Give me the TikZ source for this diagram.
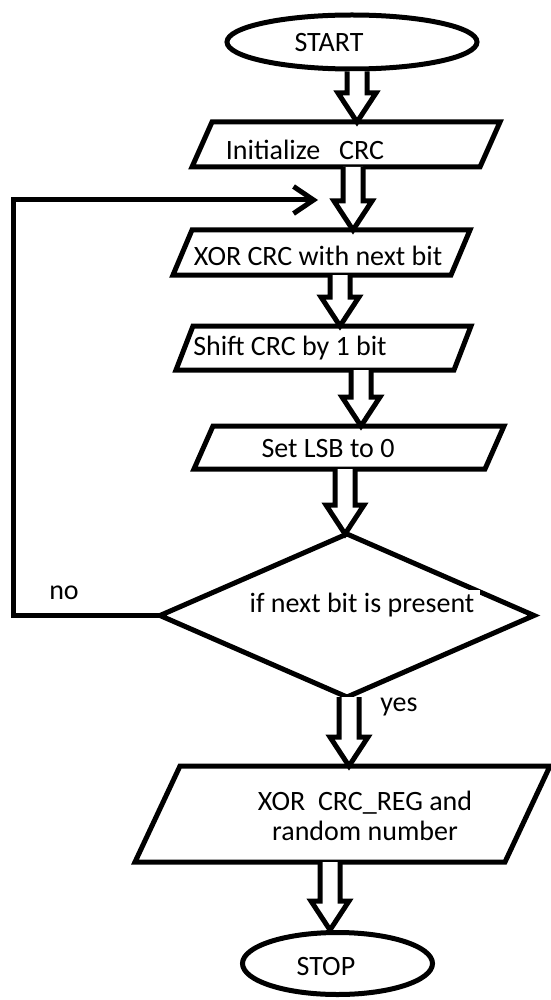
\documentclass[tikz,border=0pt]{standalone}
\usepackage{fontspec}
\setmainfont{Carlito}
\usetikzlibrary{shapes.geometric,calc,arrows.meta}
\tikzset{
  stroke/.style={line width=5pt,draw=black,line join=miter},
  box/.style={rectangle,inner sep=0pt,outer sep=0pt},
  ell/.style={ellipse,stroke,inner sep=0pt},
  txt/.style={inner sep=1pt,font=\fontsize{28}{30}\selectfont,align=center},
  blk/.style={stroke,fill=white},
}
\newcommand\paradraw[2]{\draw[stroke] ($(#1.north west)+(#2pt,0)$) -- (#1.north east) -- ($(#1.south east)+(-#2pt,0)$) -- (#1.south west) -- cycle;}
\newcommand\blockarr[3]{\draw[blk] let \p1=(#1.south), \p2=(#2.north) in
  (#3pt-10pt,\y1) -- (#3pt-10pt,\y2+29pt) -- (#3pt-19pt,\y2+29pt) -- (#3pt,\y2)
  -- (#3pt+19pt,\y2+29pt) -- (#3pt+10pt,\y2+29pt) -- (#3pt+10pt,\y1);}
\begin{document}
\begin{tikzpicture}[x=1pt,y=-1pt]
\useasboundingbox (0,0) rectangle (550,1000);
% shapes
\node[ell,minimum width=250pt,minimum height=54pt] (start) at (352,42) {};
\node[box,minimum width=308pt,minimum height=45pt] (init) at (346,144.5) {};
\node[box,minimum width=297pt,minimum height=45pt] (xor) at (321.5,252.5) {};
\node[box,minimum width=295pt,minimum height=44pt] (shift) at (323.5,348) {};
\node[box,minimum width=310pt,minimum height=43pt] (setlsb) at (349,447.5) {};
\node[box,minimum width=374pt,minimum height=163pt] (dia) at (347,615.5) {};
\node[box,minimum width=415pt,minimum height=96pt] (xorreg) at (342.5,814) {};
\node[ell,minimum width=190pt,minimum height=62pt] (stop) at (337.5,963.5) {};
\paradraw{init}{20}
\paradraw{xor}{19}
\paradraw{shift}{17}
\paradraw{setlsb}{19}
\paradraw{xorreg}{45}
\draw[stroke] (dia.north) -- (dia.east) -- (dia.south) -- (dia.west) -- cycle;
% texts
\node[txt] (tstart) at (329,43) {START};
\node[txt] (tinit) at (305,150) {Initialize\ \ \ CRC};
\node[txt] (txor) at (318,256) {XOR CRC with next bit};
\node[txt] (tshift) at (290,348) {Shift CRC by 1 bit};
\node[txt] (tset) at (328,449) {Set LSB to 0};
\node[txt,fill=white,inner xsep=6pt,inner ysep=3pt] (tdia) at (362,605) {if next bit is present};
\node[txt] (treg) at (365,816) {XOR\ \ CRC\_REG and\\random number};
\node[txt] (tstop) at (326,966) {STOP};
\node[txt] (tno) at (64,593) {no};
\node[txt] (tyes) at (399,707) {yes};
% connectors
\blockarr{start}{init}{357}
\blockarr{init}{xor}{353}
\blockarr{xor}{shift}{340}
\blockarr{shift}{setlsb}{361}
\blockarr{setlsb}{dia}{345}
\blockarr{dia}{xorreg}{349}
\blockarr{xorreg}{stop}{330}
\coordinate (corner) at (13,200);
\coordinate (loopend) at (318,200);
\draw[stroke,-{Straight Barb[length=20pt,width=27pt]}] (dia.west) -| (corner) -- (loopend);
\end{tikzpicture}
\end{document}
